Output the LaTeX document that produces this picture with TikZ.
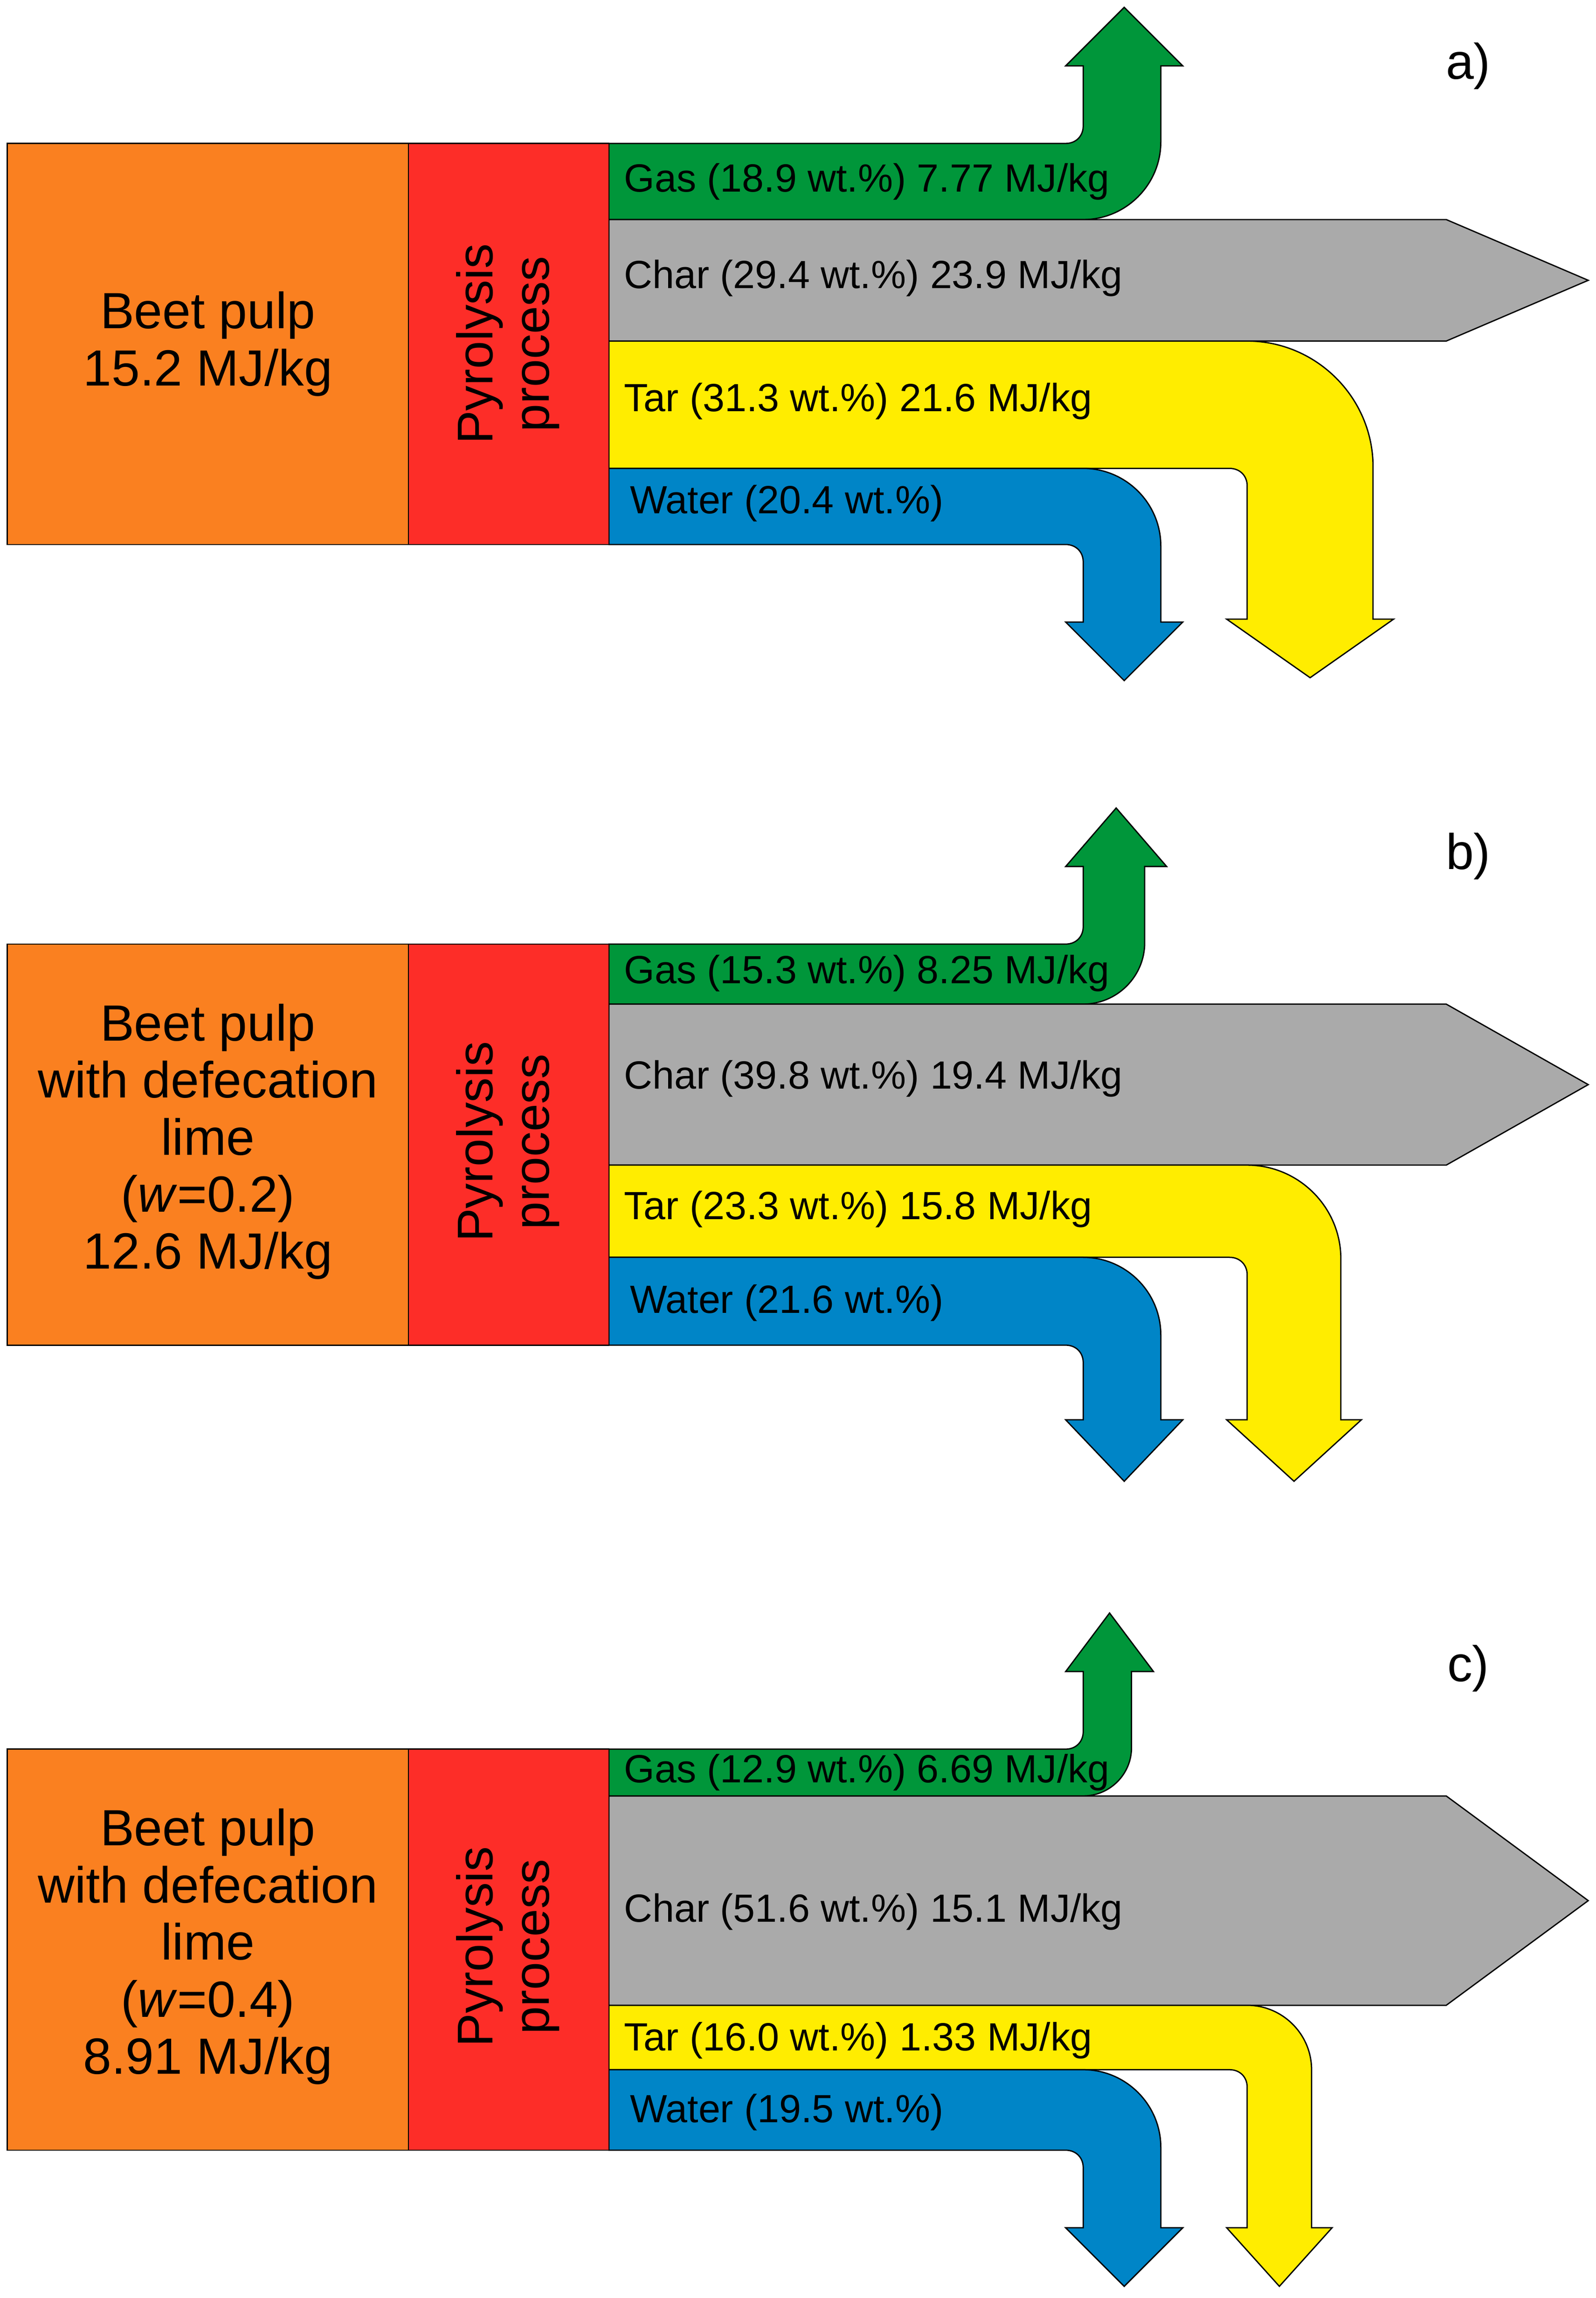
\documentclass[tikz,border=0pt]{standalone}
\usepackage{fontspec}
\setmainfont{Liberation Sans}
\definecolor{cor}{RGB}{250,128,32}
\definecolor{cred}{RGB}{253,45,40}
\definecolor{cgr}{RGB}{0,150,58}
\definecolor{cgy}{RGB}{170,170,170}
\definecolor{tarcol}{RGB}{255,237,0}
\definecolor{cbl}{RGB}{0,133,199}
\tikzset{flow/.style={draw=black,line width=0.5pt,line join=miter},
lab/.style={anchor=west,font=\fontsize{15.3}{18}\selectfont,inner sep=0pt},
big/.style={align=center,font=\fontsize{19.8}{22.2}\selectfont},
pl/.style={font=\fontsize{19.5}{22}\selectfont}}
% up arrow: color, top, bot, xL, xR, headL, headR, headbase, tipy
\newcommand{\upflow}[9]{\fill[#1,flow] (416,#2) -- ({#4-12},#2) .. controls ({#4-5},#2) and (#4,{#2-5}) .. (#4,{#2-12}) -- (#4,#8) -- (#6,#8) -- ({(#6+#7)/2},#9) -- (#7,#8) -- (#5,#8) -- (#5,{#3-(#5-#4)}) .. controls (#5,{#3-0.45*(#5-#4)}) and ({#4+0.55*(#5-#4)},#3) .. (#4,#3) -- (416,#3) -- cycle;}
% down arrow
\newcommand{\downflow}[9]{\fill[#1,flow] (416,#2) -- (#4,#2) .. controls ({#4+0.55*(#5-#4)},#2) and (#5,{#2+0.45*(#5-#4)}) .. (#5,{#2+(#5-#4)}) -- (#5,#8) -- (#7,#8) -- ({(#6+#7)/2},#9) -- (#6,#8) -- (#4,#8) -- (#4,{#3+12}) .. controls (#4,{#3+5}) and ({#4-5},#3) .. ({#4-12},#3) -- (416,#3) -- cycle;}
\newcommand{\charflow}[2]{\fill[cgy,flow] (416,#1) -- (988,#1) -- (1085,{(#1+#2)/2}) -- (988,#2) -- (416,#2) -- cycle;}
\begin{document}
\begin{tikzpicture}[x=0.02cm,y=-0.02cm]
\useasboundingbox (0,0) rectangle (1090,1570);
% ---------- a
\upflow{cgr}{98}{150}{740}{793}{728}{808}{45}{5}
\charflow{150}{233}
\downflow{tarcol}{233}{320}{852}{938}{838}{952}{423}{463}
\downflow{cbl}{320}{372}{740}{793}{728}{808}{425}{465}
\fill[cor,flow] (5,98) rectangle (279,372);
\fill[cred,flow] (279,98) rectangle (416,372);
\node[big] (bpa) at (142,235) {Beet pulp\\15.2 MJ/kg};
\node[pl,rotate=90,align=center] (ppa) at (347,235) {Pyrolysis\\process};
\node[lab] (ga) at (426,124) {Gas (18.9 wt.\%) 7.77 MJ/kg};
\node[lab] (ca) at (426,190) {Char (29.4 wt.\%) 23.9 MJ/kg};
\node[lab] (ta) at (426,274) {Tar (31.3 wt.\%) 21.6 MJ/kg};
\node[lab] (wa) at (430,344) {Water (20.4 wt.\%)};
\node[pl] (la) at (1003,45) {a)};
% ---------- b
\upflow{cgr}{645}{686}{740}{782}{728}{797}{592}{552}
\charflow{686}{796}
\downflow{tarcol}{796}{859}{852}{916}{838}{930}{970}{1012}
\downflow{cbl}{859}{919}{740}{793}{728}{808}{970}{1012}
\fill[cor,flow] (5,645) rectangle (279,919);
\fill[cred,flow] (279,645) rectangle (416,919);
\node[big] (bpb) at (142,780) {Beet pulp\\with defecation\\lime\\(\textit{w}=0.2)\\12.6 MJ/kg};
\node[pl,rotate=90,align=center] (ppb) at (347,780) {Pyrolysis\\process};
\node[lab] (gb) at (426,665) {Gas (15.3 wt.\%) 8.25 MJ/kg};
\node[lab] (cb) at (426,737) {Char (39.8 wt.\%) 19.4 MJ/kg};
\node[lab] (tb) at (426,826) {Tar (23.3 wt.\%) 15.8 MJ/kg};
\node[lab] (wb) at (430,890) {Water (21.6 wt.\%)};
\node[pl] (lb) at (1003,585) {b)};
% ---------- c
\upflow{cgr}{1195}{1227}{740}{773}{728}{788}{1142}{1102}
\charflow{1227}{1370}
\downflow{tarcol}{1370}{1414}{852}{896}{838}{910}{1522}{1562}
\downflow{cbl}{1414}{1469}{740}{793}{728}{808}{1522}{1562}
\fill[cor,flow] (5,1195) rectangle (279,1469);
\fill[cred,flow] (279,1195) rectangle (416,1469);
\node[big] (bpc) at (142,1330) {Beet pulp\\with defecation\\lime\\(\textit{w}=0.4)\\8.91 MJ/kg};
\node[pl,rotate=90,align=center] (ppc) at (347,1330) {Pyrolysis\\process};
\node[lab] (gc) at (426,1211) {Gas (12.9 wt.\%) 6.69 MJ/kg};
\node[lab] (cc) at (426,1306) {Char (51.6 wt.\%) 15.1 MJ/kg};
\node[lab] (tc) at (426,1394) {Tar (16.0 wt.\%) 1.33 MJ/kg};
\node[lab] (wc) at (430,1443) {Water (19.5 wt.\%)};
\node[pl] (lc) at (1003,1140) {c)};
\end{tikzpicture}
\end{document}
